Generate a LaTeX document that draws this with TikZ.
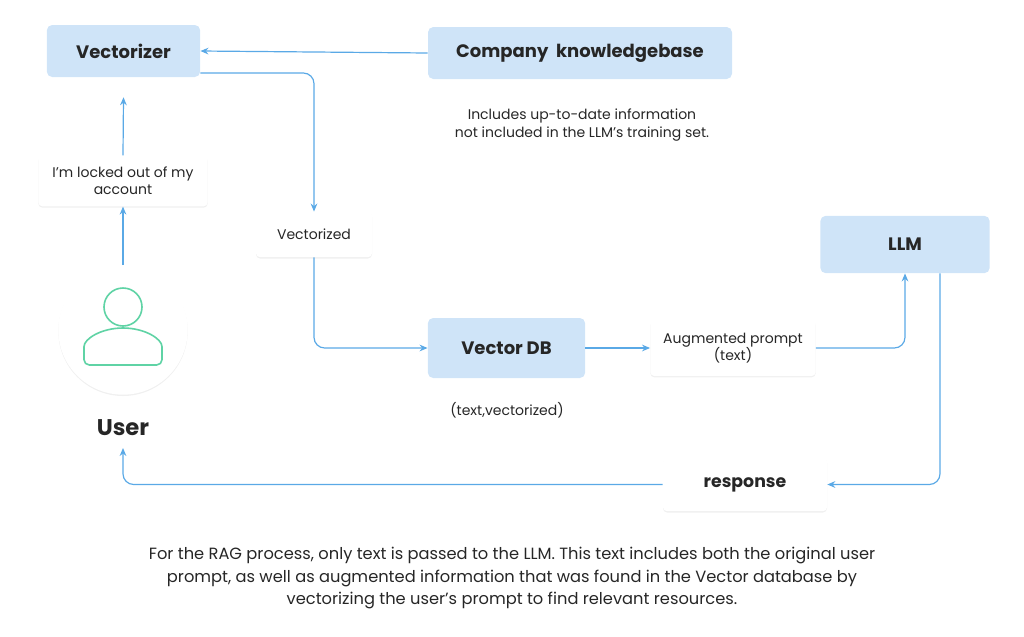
\documentclass[tikz,border=0pt]{standalone}
\usepackage{fontspec}
\setmainfont{Poppins}
\usetikzlibrary{arrows.meta,shadows}
\definecolor{boxblue}{HTML}{CFE4F8}
\definecolor{arr}{HTML}{5AA9E6}
\definecolor{grn}{HTML}{5FD3A5}
\begin{document}
\begin{tikzpicture}[x=0.75pt,y=-0.75pt,
  blue/.style={fill=boxblue,rounded corners=4pt,inner sep=0,font=\bfseries\fontsize{13.5}{16}\selectfont,text=black!85},
  wbox/.style={fill=white,rounded corners=3pt,inner sep=0,drop shadow={opacity=0.12,shadow xshift=0pt,shadow yshift=-1pt},align=center,font=\fontsize{10.5}{13}\selectfont,text=black!85},
  captxt/.style={align=center,font=\fontsize{10.5}{14}\selectfont,text=black!85},
  con/.style={draw=arr,line width=0.9pt,-{Stealth[length=6pt,width=5pt]},rounded corners=8pt}]
\useasboundingbox (0,0) rectangle (1024,636);
\node[blue,minimum width=115pt,minimum height=39pt] (vec) at (123.5,51) {Vectorizer};
\node[blue,minimum width=228pt,minimum height=39pt] (kb) at (580,53) {Company\ \ knowledgebase};
\node[captxt] (inc) at (582,125) {Includes up-to-date information\\not included in the LLM’s training set.};
\node[wbox,minimum width=87pt,minimum height=34pt] (vz) at (314,234.5) {Vectorized};
\node[blue,minimum width=118pt,minimum height=45pt] (vdb) at (506.5,348) {Vector DB};
\node[captxt] (tv) at (507,410) {(text,vectorized)};
\node[wbox,minimum width=124pt,minimum height=42pt] (aug) at (733,348) {Augmented prompt\\(text)};
\node[blue,minimum width=127pt,minimum height=43pt] (llm) at (905,244.5) {LLM};
\node[wbox,minimum width=123pt,minimum height=40pt,font=\fontsize{13}{16}\selectfont\bfseries] (resp) at (745,484.5) {response};
\node[wbox,minimum width=127pt,minimum height=38pt] (lock) at (123,181) {I’m locked out of my\\account};
\node[circle,fill=white,minimum size=97pt,inner sep=0,drop shadow={opacity=0.12,shadow xshift=0pt,shadow yshift=-1pt}] (user) at (123,330) {};
\node[font=\fontsize{17}{20}\selectfont\bfseries,text=black!85] (ulab) at (123,428) {User};
\coordinate (uin) at (123,448);
\draw[grn,line width=1.2pt] (123,307) circle (19);
\draw[grn,line width=1.2pt,rounded corners=4pt] (84,365) -- (84,352) arc[start angle=180,end angle=0,x radius=39,y radius=-24] -- (162,365) -- cycle;
\node[captxt,font=\fontsize{12.2}{17}\selectfont] (para) at (512,578) {For the RAG process, only text is passed to the LLM. This text includes both the original user\\prompt, as well as augmented information that was found in the Vector database by\\vectorizing the user’s prompt to find relevant resources.};
\draw[con] (kb.west) -- (vec.east);
\draw[con] ([yshift=-16.5pt]vec.east) -| (vz.north);
\draw[con] (vz.south) |- (vdb.west);
\draw[con] (vdb.east) -- (aug.west);
\draw[con] (aug.east) -| (llm.south);
\draw[con] ([xshift=26.25pt]llm.south) |- (resp.east);
\draw[con] (resp.west) -| (uin);
\draw[con] (user.north) -- (lock.south);
\draw[con] (lock.north) -- ([yshift=-15pt]vec.south);
\end{tikzpicture}
\end{document}
